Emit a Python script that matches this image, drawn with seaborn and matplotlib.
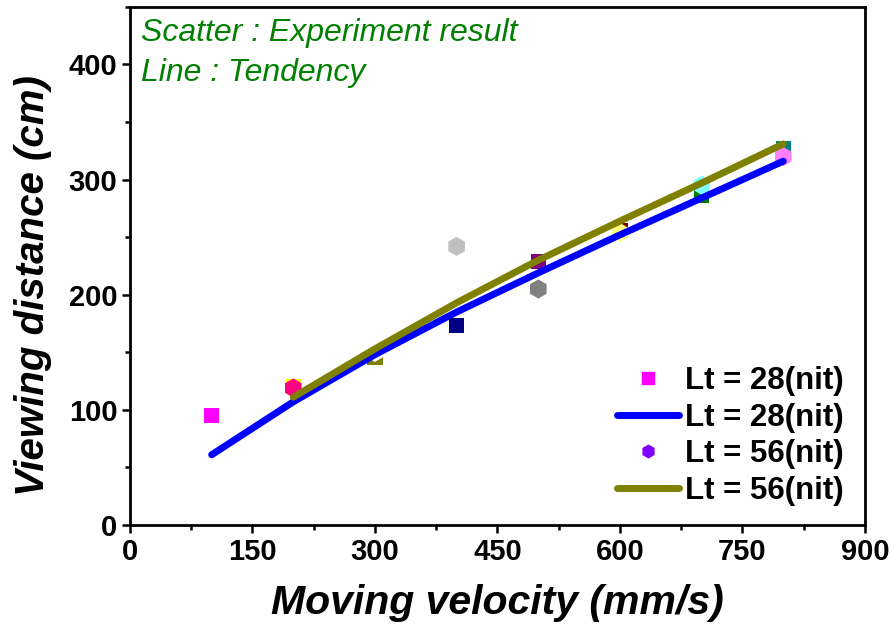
import matplotlib.pyplot as plt
from matplotlib.lines import Line2D
from matplotlib.ticker import MultipleLocator
import seaborn as sns
import pandas as pd

# measured points (Origin per-point colours)
velocity = [100, 200, 300, 400, 500, 600, 700, 800]
dist_28 = [95, 120, 146, 173, 229, 256, 286, 327]
colors_28 = ['#FF00FF', '#FFFF00', '#808000', '#000080', '#800080', '#800000', '#008000', '#008080']
velocity_56 = [200, 300, 400, 500, 600, 700, 800]
dist_56 = [119, 150, 242, 205, 254, 295, 320]
colors_56 = ['#FF0080', '#FFFFFF', '#C0C0C0', '#808080', '#FFFF80', '#80FFFF', '#FF80FF']

# tendency curves
trend_x_28 = [100, 200, 300, 400, 500, 600, 700, 800]
trend_y_28 = [61, 107, 148, 185, 219, 252, 284, 316]
trend_x_56 = [200, 300, 400, 500, 600, 700, 800]
trend_y_56 = [111, 153, 193, 230, 264, 297, 331]

legend_labels = ['Lt = 28(nit)', 'Lt = 28(nit)', 'Lt = 56(nit)', 'Lt = 56(nit)']

sns.set_style("ticks")
plt.rcParams['font.family'] = ['Liberation Sans', 'DejaVu Sans']
for k in ['text.color', 'axes.labelcolor', 'xtick.color', 'ytick.color', 'axes.edgecolor']:
    plt.rcParams[k] = 'black'

fig = plt.figure(figsize=(8.92, 6.28), dpi=100)
ax = fig.add_axes([0.1457, 0.164, 0.824, 0.825])

df28 = pd.DataFrame({'v': velocity, 'd': dist_28, 'c': colors_28})
df56 = pd.DataFrame({'v': velocity_56, 'd': dist_56, 'c': colors_56})
sns.scatterplot(data=df28, x='v', y='d', hue='c', palette={c: c for c in colors_28},
                marker='s', s=120, linewidth=0, legend=False, ax=ax, zorder=2)
sns.scatterplot(data=df56, x='v', y='d', hue='c', palette={c: c for c in colors_56},
                marker='h', s=190, linewidth=0, legend=False, ax=ax, zorder=3)

sns.lineplot(x=trend_x_28, y=trend_y_28, color='#0000FF', linewidth=5,
             solid_capstyle='round', ax=ax, zorder=4)
sns.lineplot(x=trend_x_56, y=trend_y_56, color='#808000', linewidth=5,
             solid_capstyle='round', ax=ax, zorder=5)

ax.set_xlim(0, 900)
ax.set_ylim(0, 450)
ax.xaxis.set_major_locator(MultipleLocator(150))
ax.xaxis.set_minor_locator(MultipleLocator(75))
ax.yaxis.set_major_locator(MultipleLocator(100))
ax.yaxis.set_minor_locator(MultipleLocator(50))
ax.set_yticks([0, 100, 200, 300, 400])
ax.tick_params(which='major', direction='out', length=6, width=1.8, labelsize=21, pad=3)
ax.tick_params(which='minor', direction='out', length=3.5, width=1.8)
for lab in ax.get_xticklabels() + ax.get_yticklabels():
    lab.set_fontweight('bold')
for sp in ax.spines.values():
    sp.set_linewidth(2)
    sp.set_visible(True)

ax.set_xlabel('Moving velocity (mm/s)', fontsize=29.5, fontweight='bold', style='italic', labelpad=13)
ax.set_ylabel('Viewing distance (cm)', fontsize=29, fontweight='bold', style='italic', labelpad=12)
ax.yaxis.label.set_y(0.463)

ax.text(0.015, 0.978, 'Scatter : Experiment result\nLine : Tendency', transform=ax.transAxes,
        color='#008000', style='italic', fontsize=23, va='top', ha='left', linespacing=1.4)

handles = [
    Line2D([], [], marker='s', color='#FF00FF', linestyle='none', markersize=8),
    Line2D([], [], color='#0000FF', linewidth=5, solid_capstyle='round'),
    Line2D([], [], marker='h', color='#8000FF', linestyle='none', markersize=9),
    Line2D([], [], color='#808000', linewidth=5, solid_capstyle='round'),
]
leg = ax.legend(handles, legend_labels, loc='lower right', frameon=False,
                prop={'weight': 'bold', 'size': 22.5}, handlelength=2.0, handletextpad=0.2,
                labelspacing=0.22, borderaxespad=0.2, bbox_to_anchor=(0.997, 0.0))

fig.savefig('out.png', dpi=100)
